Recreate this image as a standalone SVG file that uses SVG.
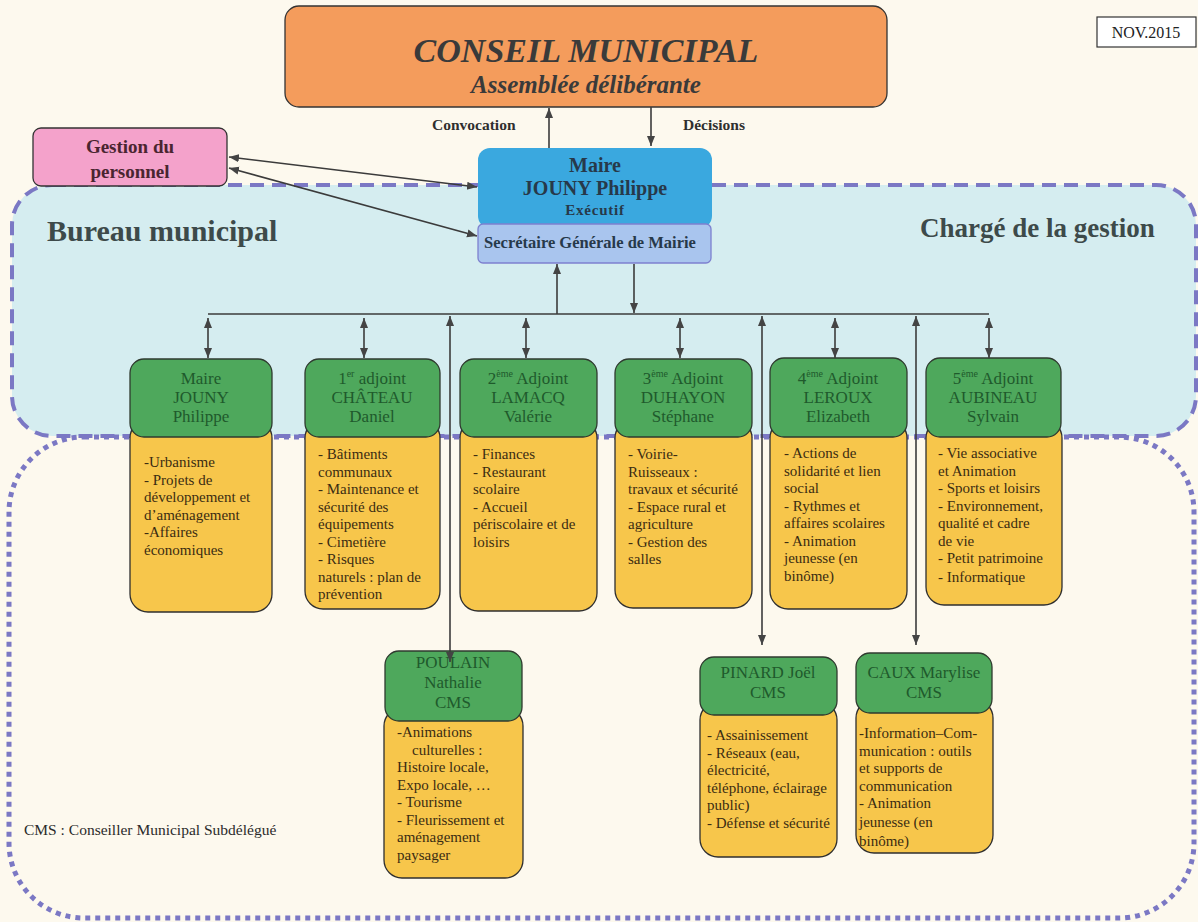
<svg xmlns="http://www.w3.org/2000/svg" width="1198" height="922" viewBox="0 0 1198 922">
<defs>
<style>
text{font-family:"Liberation Serif","Times New Roman",serif}
.g{fill:#4ea85c;stroke:#2f3a2f;stroke-width:1.3}
.y{fill:#f7c64b;stroke:#2f2f2f;stroke-width:1.3}
.gt{font-size:17px;fill:#1f5a2c;text-anchor:middle}
.yt{font-size:15px;fill:#3b2c12}
.c{stroke:#3b3b3b;stroke-width:1.6;fill:none}
.b{font-weight:bold}
</style>
<marker id="ah" viewBox="0 0 10 10" refX="10" refY="5" markerWidth="10" markerHeight="10" markerUnits="userSpaceOnUse" orient="auto-start-reverse">
<path d="M0,1 L10,5 L0,9 z" fill="#444"/>
</marker>
</defs>
<rect x="0" y="0" width="1198" height="922" fill="#fdf9ee"/>

<g id="bureau-zone">
<rect x="12" y="185" width="1184" height="251" rx="40" fill="#d5edf0" stroke="#7b78c4" stroke-width="4" stroke-dasharray="14 8"/>
<text x="47" y="241" class="b" font-size="30" fill="#3d4a4a">Bureau municipal</text>
<text x="920" y="237" class="b" font-size="27" fill="#3d4a4a">Chargé de la gestion</text>
</g>
<g id="lower-zone">
<rect x="9" y="437" width="1185" height="481" rx="75" fill="none" stroke="#7b78c4" stroke-width="5" stroke-dasharray="5 5"/>
<text x="24" y="835" font-size="15.5" fill="#2a2a2a">CMS : Conseiller Municipal Subdélégué</text>
</g>

<g id="date">
<rect x="1097" y="17" width="99" height="30" fill="#ffffff" stroke="#333" stroke-width="1.2"/>
<text x="1146" y="38" font-size="16" text-anchor="middle" fill="#222">NOV.2015</text>
</g>

<g id="conseil">
<rect x="285" y="6" width="602" height="101" rx="14" fill="#f49c5c" stroke="#333" stroke-width="1.3"/>
<text x="586" y="62" font-size="34" font-weight="bold" font-style="italic" text-anchor="middle" fill="#3a3a3a">CONSEIL MUNICIPAL</text>
<text x="586" y="93" font-size="25" font-weight="bold" font-style="italic" text-anchor="middle" fill="#3a3a3a">Assemblée délibérante</text>
</g>

<g id="labels">
<text x="432" y="130" class="b" font-size="15.5" fill="#2f2f2f">Convocation</text>
<text x="683" y="130" class="b" font-size="15.5" fill="#2f2f2f">Décisions</text>
</g>

<g id="gestion">
<rect x="33" y="128" width="194" height="58" rx="8" fill="#f4a2cb" stroke="#333" stroke-width="1.3"/>
<text x="130" y="153" class="b" font-size="19" text-anchor="middle" fill="#4a2530">Gestion du</text>
<text x="130" y="178" class="b" font-size="19" text-anchor="middle" fill="#4a2530">personnel</text>
</g>

<g id="maire-exec">
<rect x="478" y="148" width="234" height="80" rx="12" fill="#3aa8df"/>
<text x="595" y="172" class="b" font-size="20" text-anchor="middle" fill="#27394a">Maire</text>
<text x="595" y="195" class="b" font-size="20" text-anchor="middle" fill="#27394a">JOUNY Philippe</text>
<text x="595" y="215" class="b" font-size="15" text-anchor="middle" fill="#27394a" letter-spacing="0.8">Exécutif</text>
</g>
<g id="secretaire">
<rect x="478" y="224" width="233" height="39" rx="5" fill="#a9c5ee" stroke="#7d80cf" stroke-width="1.3"/>
<text x="590" y="248" class="b" font-size="16.5" fill="#27394a" text-anchor="middle">Secrétaire Générale de Mairie</text>
</g>

<g id="maire">
<rect class="y" x="130" y="420" width="142" height="192" rx="18"/>
<rect class="g" x="130" y="359" width="142" height="78" rx="14"/>
<text class="gt" x="201" y="384">Maire</text>
<text class="gt" x="201" y="403">JOUNY</text>
<text class="gt" x="201" y="422">Philippe</text>
<text class="yt" x="144" y="467">-Urbanisme</text>
<text class="yt" x="144" y="484.5">- Projets de</text>
<text class="yt" x="144" y="502">développement et</text>
<text class="yt" x="144" y="519.5">d’aménagement</text>
<text class="yt" x="144" y="537">-Affaires</text>
<text class="yt" x="144" y="554.5">économiques</text>
</g>

<g id="chateau">
<rect class="y" x="305" y="420" width="135" height="189" rx="18"/>
<rect class="g" x="305" y="359" width="135" height="78" rx="14"/>
<text class="gt" x="372" y="384">1<tspan font-size="10" dy="-7">er</tspan><tspan dy="7"> adjoint</tspan></text>
<text class="gt" x="372" y="403">CHÂTEAU</text>
<text class="gt" x="372" y="422">Daniel</text>
<text class="yt" x="318" y="459">- Bâtiments</text>
<text class="yt" x="318" y="476.5">communaux</text>
<text class="yt" x="318" y="494">- Maintenance et</text>
<text class="yt" x="318" y="511.5">sécurité des</text>
<text class="yt" x="318" y="529">équipements</text>
<text class="yt" x="318" y="546.5">- Cimetière</text>
<text class="yt" x="318" y="564">- Risques</text>
<text class="yt" x="318" y="581.5">naturels : plan de</text>
<text class="yt" x="318" y="599">prévention</text>
</g>

<g id="lamacq">
<rect class="y" x="460" y="420" width="137" height="191" rx="18"/>
<rect class="g" x="460" y="359" width="137" height="78" rx="14"/>
<text class="gt" x="528" y="384">2<tspan font-size="10" dy="-7">ème</tspan><tspan dy="7"> Adjoint</tspan></text>
<text class="gt" x="528" y="403">LAMACQ</text>
<text class="gt" x="528" y="422">Valérie</text>
<text class="yt" x="473" y="459">- Finances</text>
<text class="yt" x="473" y="476.5">- Restaurant</text>
<text class="yt" x="473" y="494">scolaire</text>
<text class="yt" x="473" y="511.5">- Accueil</text>
<text class="yt" x="473" y="529">périscolaire et de</text>
<text class="yt" x="473" y="546.5">loisirs</text>
</g>

<g id="duhayon">
<rect class="y" x="615" y="420" width="137" height="188" rx="18"/>
<rect class="g" x="615" y="359" width="137" height="78" rx="14"/>
<text class="gt" x="683" y="384">3<tspan font-size="10" dy="-7">ème</tspan><tspan dy="7"> Adjoint</tspan></text>
<text class="gt" x="683" y="403">DUHAYON</text>
<text class="gt" x="683" y="422">Stéphane</text>
<text class="yt" x="628" y="459">- Voirie-</text>
<text class="yt" x="628" y="476.5">Ruisseaux :</text>
<text class="yt" x="628" y="494">travaux et sécurité</text>
<text class="yt" x="628" y="511.5"> - Espace rural et</text>
<text class="yt" x="628" y="529">agriculture</text>
<text class="yt" x="628" y="546.5">- Gestion des</text>
<text class="yt" x="628" y="564">salles</text>
</g>

<g id="leroux">
<rect class="y" x="770" y="420" width="137" height="189" rx="18"/>
<rect class="g" x="770" y="358" width="137" height="79" rx="14"/>
<text class="gt" x="838" y="384">4<tspan font-size="10" dy="-7">ème</tspan><tspan dy="7"> Adjoint</tspan></text>
<text class="gt" x="838" y="403">LEROUX</text>
<text class="gt" x="838" y="422">Elizabeth</text>
<text class="yt" x="784" y="458">- Actions de</text>
<text class="yt" x="784" y="475.5">solidarité  et lien</text>
<text class="yt" x="784" y="493">social</text>
<text class="yt" x="784" y="510.5">- Rythmes et</text>
<text class="yt" x="784" y="528">affaires scolaires</text>
<text class="yt" x="784" y="545.5">- Animation</text>
<text class="yt" x="784" y="563">jeunesse (en</text>
<text class="yt" x="784" y="580.5">binôme)</text>
</g>

<g id="aubineau">
<rect class="y" x="926" y="420" width="136" height="185" rx="18"/>
<rect class="g" x="926" y="358" width="135" height="79" rx="14"/>
<text class="gt" x="993" y="384">5<tspan font-size="10" dy="-7">ème</tspan><tspan dy="7"> Adjoint</tspan></text>
<text class="gt" x="993" y="403">AUBINEAU</text>
<text class="gt" x="993" y="422">Sylvain</text>
<text class="yt" x="938" y="458">- Vie associative</text>
<text class="yt" x="938" y="475.5">et Animation</text>
<text class="yt" x="938" y="493">- Sports et loisirs</text>
<text class="yt" x="938" y="510.5">- Environnement,</text>
<text class="yt" x="938" y="528">qualité et cadre</text>
<text class="yt" x="938" y="545.5">de vie</text>
<text class="yt" x="938" y="563">- Petit patrimoine</text>
<text class="yt" x="938" y="582" font-size="16">- Informatique</text>
</g>

<g id="poulain">
<rect class="y" x="384" y="708" width="139" height="170" rx="18"/>
<rect class="g" x="385" y="651" width="137" height="70" rx="14"/>
<text class="gt" x="453" y="668">POULAIN</text>
<text class="gt" x="453" y="688">Nathalie</text>
<text class="gt" x="453" y="708">CMS</text>
<text class="yt" x="397" y="737">-Animations</text>
<text class="yt" x="412" y="754.5">culturelles :</text>
<text class="yt" x="397" y="772">Histoire locale,</text>
<text class="yt" x="397" y="789.5">Expo locale, …</text>
<text class="yt" x="397" y="807">- Tourisme</text>
<text class="yt" x="397" y="824.5">- Fleurissement et</text>
<text class="yt" x="397" y="842">aménagement</text>
<text class="yt" x="397" y="859.5">paysager</text>
</g>

<g id="pinard">
<rect class="y" x="700" y="702" width="137" height="155" rx="18"/>
<rect class="g" x="700" y="657" width="137" height="58" rx="14"/>
<text class="gt" x="768" y="678">PINARD Joël</text>
<text class="gt" x="768" y="698">CMS</text>
<text class="yt" x="707" y="740">- Assainissement</text>
<text class="yt" x="707" y="757.5">- Réseaux (eau,</text>
<text class="yt" x="707" y="775">électricité,</text>
<text class="yt" x="707" y="792.5">téléphone, éclairage</text>
<text class="yt" x="707" y="810">public)</text>
<text class="yt" x="707" y="827.5">- Défense et sécurité</text>
</g>

<g id="caux">
<rect class="y" x="856" y="700" width="137" height="153" rx="18"/>
<rect class="g" x="856" y="653" width="136" height="60" rx="14"/>
<text class="gt" x="924" y="678">CAUX Marylise</text>
<text class="gt" x="924" y="698">CMS</text>
<text class="yt" x="859" y="738">-Information–Com-</text>
<text class="yt" x="859" y="755.5">munication : outils</text>
<text class="yt" x="859" y="773">et supports de</text>
<text class="yt" x="859" y="790.5">communication</text>
<text class="yt" x="859" y="808" font-size="16.5">- Animation</text>
<text class="yt" x="859" y="827" font-size="16.5">jeunesse (en</text>
<text class="yt" x="859" y="846" font-size="16.5">binôme)</text>
</g>

<g id="connectors">
<line class="c" x1="549" y1="148" x2="549" y2="108" marker-end="url(#ah)"/>
<line class="c" x1="651" y1="107" x2="651" y2="146" marker-end="url(#ah)"/>
<line class="c" x1="229" y1="157" x2="477" y2="187" marker-start="url(#ah)" marker-end="url(#ah)"/>
<line class="c" x1="229" y1="168" x2="477" y2="236" marker-start="url(#ah)" marker-end="url(#ah)"/>
<line class="c" x1="208" y1="314" x2="989" y2="314"/>
<line class="c" x1="557" y1="314" x2="557" y2="264" marker-end="url(#ah)"/>
<line class="c" x1="634" y1="264" x2="634" y2="313" marker-end="url(#ah)"/>
<line class="c" x1="208" y1="318" x2="208" y2="358" marker-start="url(#ah)" marker-end="url(#ah)"/>
<line class="c" x1="364" y1="318" x2="364" y2="358" marker-start="url(#ah)" marker-end="url(#ah)"/>
<line class="c" x1="526" y1="318" x2="526" y2="358" marker-start="url(#ah)" marker-end="url(#ah)"/>
<line class="c" x1="680" y1="318" x2="680" y2="358" marker-start="url(#ah)" marker-end="url(#ah)"/>
<line class="c" x1="835" y1="318" x2="835" y2="358" marker-start="url(#ah)" marker-end="url(#ah)"/>
<line class="c" x1="989" y1="318" x2="989" y2="358" marker-start="url(#ah)" marker-end="url(#ah)"/>
<line class="c" x1="450" y1="316" x2="450" y2="662" marker-start="url(#ah)" marker-end="url(#ah)"/>
<line class="c" x1="762" y1="316" x2="762" y2="645" marker-start="url(#ah)" marker-end="url(#ah)"/>
<line class="c" x1="916" y1="316" x2="916" y2="645" marker-start="url(#ah)" marker-end="url(#ah)"/>
</g>
</svg>
